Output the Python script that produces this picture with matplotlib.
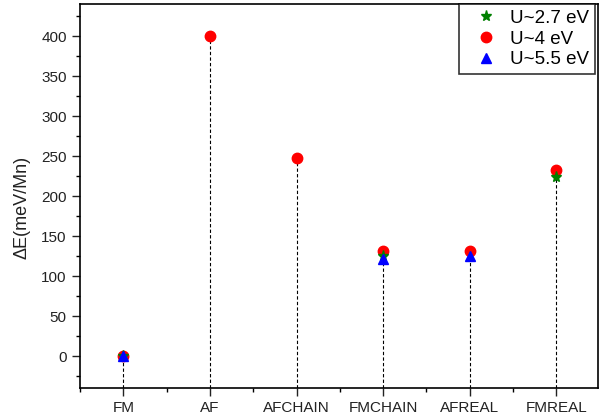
import numpy as np
import matplotlib
matplotlib.use('Agg')
import matplotlib.pyplot as plt
from matplotlib.ticker import MultipleLocator

plt.rcParams['font.family'] = ['Liberation Sans', 'DejaVu Sans']

# données
categories = ['FM', 'AF', 'AFCHAIN', 'FMCHAIN', 'AFREAL', 'FMREAL']
idx_u27 = [0, 3, 5]
val_u27 = [0, 125, 224]
idx_u4 = [0, 1, 2, 3, 4, 5]
val_u4 = [0, 400, 248, 131, 131, 233]
idx_u55 = [0, 3, 4]
val_u55 = [0, 121, 125]

fig = plt.figure(figsize=(6.05, 4.17), dpi=100)
ax = fig.add_axes([80 / 605, 1 - 388 / 417, 518 / 605, 384 / 417])

ymin = -40
x = np.arange(len(categories))

# lignes verticales en pointillés jusqu'au point le plus haut
hauteurs_max = np.zeros(len(categories))
for idx, val in [(idx_u27, val_u27), (idx_u4, val_u4), (idx_u55, val_u55)]:
    for i, v in zip(idx, val):
        hauteurs_max[i] = max(hauteurs_max[i], v)
ax.vlines(x, ymin, hauteurs_max, colors='black', linestyles=(0, (3, 2)), linewidth=0.8, zorder=1)

ax.plot(idx_u27, val_u27, linestyle='none', marker='*', color='green', ms=8, label='U~2.7 eV', zorder=3)
ax.plot(idx_u4, val_u4, linestyle='none', marker='o', color='red', ms=7.5, label='U~4 eV', zorder=2)
ax.plot(idx_u55, val_u55, linestyle='none', marker='^', color='blue', ms=7.5, label='U~5.5 eV', zorder=4)

ax.set_xlim(-0.5, 5.48)
ax.set_ylim(ymin, 440)
ax.set_xticks(x)
ax.set_xticklabels(categories)
ax.xaxis.set_minor_locator(MultipleLocator(0.5))
ax.yaxis.set_major_locator(MultipleLocator(50))
ax.yaxis.set_minor_locator(MultipleLocator(25))
ax.tick_params(axis='both', which='major', direction='out', length=6, width=1, labelsize=11, colors='#222222')
ax.tick_params(axis='both', which='minor', direction='out', length=3, width=1)
for s in ax.spines.values():
    s.set_linewidth(1.2)

ax.set_ylabel('ΔE(meV/Mn)', fontsize=13, color='#222222')
ax.yaxis.set_label_coords(-0.095, 0.47)

leg = ax.legend(loc='upper right', bbox_to_anchor=(1 - 3 / 518, 1), fontsize=13.5, frameon=True,
                fancybox=False, edgecolor='black', borderaxespad=0, handlelength=2.3,
                handletextpad=0.15, borderpad=0.3, labelspacing=0.2, numpoints=1)
leg.get_frame().set_linewidth(1.2)

plt.savefig('out.png', dpi=100)
